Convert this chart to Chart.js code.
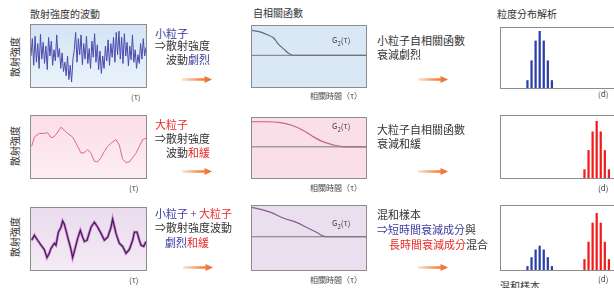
<!DOCTYPE html>
<html>
<head>
<meta charset="utf-8">
<script src="https://cdn.jsdelivr.net/npm/chart.js@4.4.0/dist/chart.umd.min.js"></script>
<style>
  body { margin: 0; width: 614px; height: 288px; background: #fff; overflow: hidden;
         font-family: "Noto Sans CJK TC", "Noto Sans", sans-serif; color: #333; position: relative; }
  .t { position: absolute; white-space: nowrap; font-size: 11px; line-height: 13px; }
  .ttl { position: absolute; white-space: nowrap; font-size: 10px; line-height: 12px; color: #333; }
  .sm { position: absolute; white-space: nowrap; font-size: 8px; line-height: 10px; color: #444; }
  .box { position: absolute; border: 1px solid #8c8c8c; box-sizing: border-box; }
  .box > div { position: relative; width: 100%; height: 100%; }
  .vl { position: absolute; font-size: 10px; line-height: 12px; transform: rotate(-90deg); transform-origin: center; white-space: nowrap; color: #333; }
  .arrow { position: absolute; width: 30px; height: 7px;
           background: linear-gradient(to right, #fde3cf, #f28a4a 60%, #ee6a2a);
           clip-path: polygon(0 33%, 75% 33%, 75% 0, 100% 50%, 75% 100%, 75% 67%, 0 67%); }
  .b { color: #3b3ba0; } .r { color: #ea2a2a; }
</style>
</head>
<body>
<!-- titles -->
<div class="ttl" style="left:30px;top:8px">散射強度的波動</div>
<div class="ttl" style="left:253px;top:7px">自相關函數</div>
<div class="ttl" style="left:497px;top:8px">粒度分布解析</div>

<!-- vertical labels -->
<div class="vl" style="left:-5px;top:51px">散射強度</div>
<div class="vl" style="left:-5px;top:140px">散射強度</div>
<div class="vl" style="left:-5px;top:231px">散射強度</div>

<!-- boxes -->
<div class="box" style="left:30px;top:24px;width:117px;height:64px;background:linear-gradient(#d4e4f4,#eaf3fb)"><div><canvas id="s1"></canvas></div></div>
<div class="box" style="left:251px;top:25px;width:116px;height:63px;background:#d9e8f4"><div><canvas id="g1"></canvas></div></div>
<div class="box" style="left:500px;top:27px;width:116px;height:62px;background:#fff"><div><canvas id="d1"></canvas></div></div>

<div class="box" style="left:30px;top:115px;width:117px;height:64px;background:linear-gradient(#fbdde8,#fdeef3)"><div><canvas id="s2"></canvas></div></div>
<div class="box" style="left:251px;top:117px;width:116px;height:62px;background:#fadfe9"><div><canvas id="g2"></canvas></div></div>
<div class="box" style="left:500px;top:115px;width:116px;height:64px;background:#fff"><div><canvas id="d2"></canvas></div></div>

<div class="box" style="left:30px;top:207px;width:117px;height:64px;background:linear-gradient(#eadcee,#f3ebf5)"><div><canvas id="s3"></canvas></div></div>
<div class="box" style="left:251px;top:205px;width:116px;height:66px;background:#e9dfee"><div><canvas id="g3"></canvas></div></div>
<div class="box" style="left:500px;top:205px;width:116px;height:66px;background:#fff"><div><canvas id="d3"></canvas></div></div>

<!-- G2 labels -->
<div class="sm" style="left:332px;top:35px">G<sub style="font-size:6px">2</sub>(τ)</div>
<div class="sm" style="left:332px;top:121px">G<sub style="font-size:6px">2</sub>(τ)</div>
<div class="sm" style="left:332px;top:218px">G<sub style="font-size:6px">2</sub>(τ)</div>

<!-- axis notes -->
<div class="sm" style="left:131px;top:92px">(τ)</div>
<div class="sm" style="left:129px;top:183px">(τ)</div>
<div class="sm" style="left:129px;top:275px">(τ)</div>
<div class="sm" style="left:310px;top:91px">相關時間（τ）</div>
<div class="sm" style="left:310px;top:183px">相關時間（τ）</div>
<div class="sm" style="left:310px;top:275px">相關時間（τ）</div>
<div class="sm" style="left:598px;top:89px">(d)</div>
<div class="sm" style="left:598px;top:183px">(d)</div>
<div class="sm" style="left:598px;top:274px">(d)</div>

<!-- middle texts -->
<div class="t b" style="left:155px;top:27px">小粒子</div>
<div class="t" style="left:155px;top:39px">⇒散射強度</div>
<div class="t" style="left:166px;top:53px">波動<span class="b">劇烈</span></div>

<div class="t r" style="left:155px;top:118px">大粒子</div>
<div class="t" style="left:155px;top:132px">⇒散射強度</div>
<div class="t" style="left:166px;top:146px">波動<span class="r">和緩</span></div>

<div class="t" style="left:155px;top:207px"><span class="b">小粒子</span> <span style="color:#8a4a9a">+</span> <span class="r">大粒子</span></div>
<div class="t" style="left:155px;top:221px">⇒散射強度波動</div>
<div class="t" style="left:165px;top:236px"><span class="b">劇烈</span><span class="r">和緩</span></div>

<!-- right texts -->
<div class="t" style="left:377px;top:34px">小粒子自相關函數</div>
<div class="t" style="left:377px;top:48px">衰減劇烈</div>
<div class="t" style="left:377px;top:123px">大粒子自相關函數</div>
<div class="t" style="left:377px;top:137px">衰減和緩</div>
<div class="t" style="left:377px;top:208px">混和樣本</div>
<div class="t" style="left:377px;top:223px"><span class="b">⇒短時間衰減成分</span>與</div>
<div class="t" style="left:389px;top:238px"><span class="r">長時間衰減成分</span>混合</div>
<div class="t" style="left:500px;top:279px;font-size:10px">混和樣本</div>

<!-- arrows -->
<div class="arrow" style="left:182px;top:76px"></div>
<div class="arrow" style="left:418px;top:76px"></div>
<div class="arrow" style="left:182px;top:168px"></div>
<div class="arrow" style="left:418px;top:168px"></div>
<div class="arrow" style="left:183px;top:264px"></div>
<div class="arrow" style="left:418px;top:264px"></div>

<script>
// scattering intensity, small particles (fast fluctuation)
const sig1 = [50, 78, 35, 82, 40, 70, 30, 85, 45, 72, 38, 66, 28, 80, 50, 74, 35, 60, 42, 84,
              48, 62, 30, 55, 25, 40, 18, 50, 12, 35, 8, 45, 60, 88, 40, 78, 52, 84, 36, 70,
              45, 82, 38, 62, 30, 74, 48, 86, 40, 68, 28, 58, 22, 50, 30, 66, 42, 76, 35, 70,
              48, 80, 40, 88, 52, 90, 45, 80, 38, 86, 50, 72, 34, 66, 44, 84, 40, 60, 30, 52,
              38, 70, 45, 78, 50, 64];
// large particles (slow fluctuation)
const t2 = [0.6, 2.9, 7.2, 11.6, 14.5, 17.4, 20.3, 23.2, 26.1, 29, 31.9, 36.2, 40.6, 43.5, 46.4, 49.3,
            52.2, 55.1, 58, 60.9, 63.8, 66.7, 69.6, 73.9, 76.8, 79.7, 82.6, 85.5, 88.4, 91.3, 94.2, 97.1, 100];
const sig2 = [51, 66, 72, 72, 73, 65, 67, 74, 82, 77, 72, 66, 51, 40, 41, 46,
              40, 27, 26, 33, 43, 51, 56, 62, 53, 30, 25, 26, 33, 40, 51, 62, 64];
// mixed sample
const t3 = [0.6, 2.9, 5.8, 8.7, 11.6, 13.9, 15.9, 17.4, 20.3, 21.7, 23.8, 26.1, 27.5, 29, 31.9, 34.8,
            36.2, 37.7, 40.6, 42.9, 44.9, 46.4, 48.7, 52.2, 55.1, 58, 60.9, 63.8, 66.7, 69.6, 71,
            73.9, 76.8, 79.7, 82.6, 85.5, 88.4, 89.9, 92.2, 94.2, 95.7, 98, 100];
const sig3 = [48, 56, 48, 40, 33, 20, 27, 35, 43, 40, 61, 69, 79, 74, 53, 33,
              20, 30, 51, 64, 53, 46, 48, 69, 77, 69, 59, 48, 53, 69, 82,
              59, 43, 38, 27, 33, 48, 61, 61, 48, 40, 38, 46];

// autocorrelation functions
const tauA = [0, 7, 13, 19, 23, 28, 32, 36, 100];
const gA   = [0.85, 0.8, 0.71, 0.59, 0.39, 0.21, 0.07, 0, 0];
const tauB = [0, 13, 25, 36, 45, 53, 62, 71, 79, 94, 100];
const gB   = [0.87, 0.87, 0.84, 0.73, 0.57, 0.37, 0.18, 0.07, 0.01, 0, 0];
const tauC = [0, 2, 16, 28, 40, 48, 57, 62, 68, 100];
const gC   = [0.95, 0.94, 0.8, 0.6, 0.45, 0.3, 0.14, 0.03, 0, 0];

// particle size distribution
const sizeBins = ['1','2','3','4','5','6','7','8','9','10','11','12','13','14',
                  '15','16','17','18','19','20','21','22','23','24','25','26','27','28'];
const distSmall = [0,0,0,0,0,0,13,46,79,95,79,46,13,0,0,0,0,0,0,0,0,0,0,0,0,0,0,0];
const distLarge = [0,0,0,0,0,0,0,0,0,0,0,0,0,0,0,0,0,0,0,0,14,45,75,92,75,45,14,0];
const mixSmall  = [0,0,0,0,0,0,6,20,32,38,32,20,6,0,0,0,0,0,0,0,0,0,0,0,0,0,0,0];
const mixLarge  = [0,0,0,0,0,0,0,0,0,0,0,0,0,0,0,0,0,0,0,0,17,44,74,89,74,44,17,0];

const base = {
  responsive: true,
  maintainAspectRatio: false,
  animation: false,
  layout: { padding: 0 },
  plugins: { legend: { display: false }, tooltip: { enabled: false } },
  elements: { point: { radius: 0 } }
};

function pts(xs, ys) {
  return ys.map((v, i) => ({ x: xs[i], y: v }));
}

function signal(id, datasets, xmax) {
  new Chart(document.getElementById(id), {
    type: 'line',
    data: { datasets: datasets },
    options: Object.assign({}, base, {
      scales: {
        x: { type: 'linear', display: false, min: 0, max: xmax },
        y: { display: false, min: 0, max: 100 }
      }
    })
  });
}

signal('s1', [{
  data: pts(sig1.map((v, i) => i), sig1),
  borderColor: '#4a4aac', borderWidth: 1, tension: 0
}], sig1.length - 1);

signal('s2', [{
  data: pts(t2, sig2),
  borderColor: '#e0668c', borderWidth: 1, tension: 0
}], 100);

// dark core line first so it is drawn on top of the magenta halo
signal('s3', [{
  data: pts(t3, sig3),
  borderColor: '#3e2262', borderWidth: 1.3, tension: 0
}, {
  data: pts(t3, sig3),
  borderColor: 'rgba(200, 60, 175, 0.55)', borderWidth: 2.8, tension: 0
}], 100);

function corr(id, tau, g, color) {
  new Chart(document.getElementById(id), {
    type: 'line',
    data: {
      datasets: [{
        data: [{ x: 0, y: 0 }, { x: 100, y: 0 }],
        borderColor: '#777', borderWidth: 1
      }, {
        data: pts(tau, g),
        borderColor: color, borderWidth: 1.2, tension: 0.4, cubicInterpolationMode: 'monotone'
      }]
    },
    options: Object.assign({}, base, {
      scales: {
        x: { type: 'linear', display: false, min: 0, max: 100 },
        y: { display: false, min: -1.08, max: 1 }
      }
    })
  });
}

corr('g1', tauA, gA, '#5a6a88');
corr('g2', tauB, gB, '#c0678a');
corr('g3', tauC, gC, '#8a5a8e');

function dist(id, sets) {
  new Chart(document.getElementById(id), {
    type: 'bar',
    data: {
      labels: sizeBins,
      datasets: sets.map(s => ({
        data: s.data, backgroundColor: s.color, grouped: false,
        barPercentage: 0.55, categoryPercentage: 1
      }))
    },
    options: Object.assign({}, base, {
      scales: {
        x: { display: false },
        y: { display: false, min: 0, max: 100 }
      }
    })
  });
}

dist('d1', [{ data: distSmall, color: '#2a3ea8' }]);
dist('d2', [{ data: distLarge, color: '#ee1c1c' }]);
dist('d3', [{ data: mixSmall, color: '#2a3ea8' }, { data: mixLarge, color: '#ee1c1c' }]);
</script>
</body>
</html>
